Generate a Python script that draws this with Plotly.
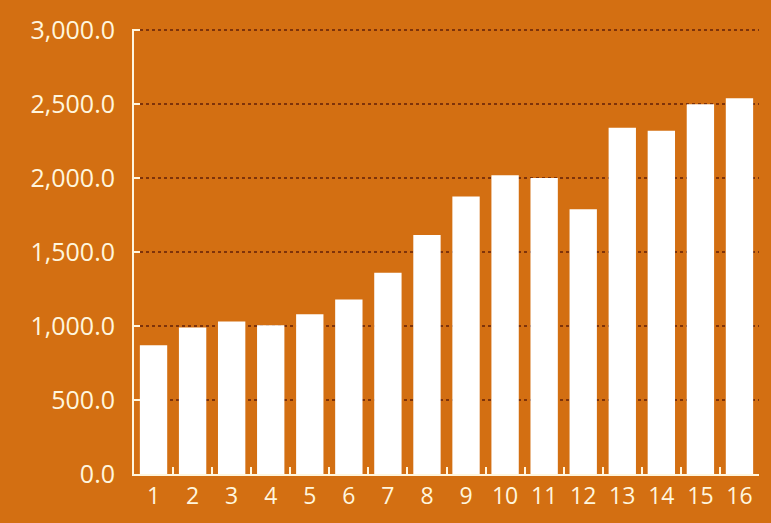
import plotly.graph_objects as go

categories = [str(i) for i in range(1, 17)]
values = [870, 990, 1030, 1005, 1080, 1180, 1360, 1615, 1875, 2020, 2000, 1790, 2340, 2320, 2500, 2540]
y_ticks = [0, 500, 1000, 1500, 2000, 2500, 3000]

bg = "#D36F12"
cream = "#FFF6DE"
grid = "#7E330A"

fig = go.Figure(go.Bar(
    x=categories, y=values,
    marker=dict(color="#FFFFFF", line=dict(width=0)),
))

fig.update_layout(
    width=771, height=523,
    paper_bgcolor=bg, plot_bgcolor=bg,
    margin=dict(l=134, r=12, t=20, b=46),
    bargap=0.3,
    showlegend=False,
    font=dict(family="Open Sans", color=cream, size=22),
)
fig.update_xaxes(
    type="category",
    showline=True, linecolor=cream, linewidth=2,
    ticks="inside", tickson="boundaries", ticklen=7, tickcolor=cream, tickwidth=1.5,
    tickfont=dict(size=23, color=cream),
    showgrid=False,
)
fig.update_yaxes(
    range=[0, 3008],
    tickvals=y_ticks, tickformat=",.1f",
    showline=True, linecolor=cream, linewidth=2,
    ticks="inside", ticklen=6, tickcolor=cream, tickwidth=1.5,
    tickfont=dict(size=25, color=cream),
    showgrid=True, gridcolor=grid, gridwidth=1.5, griddash="dot",
    zeroline=False,
    ticklabelstandoff=12,
)

fig.write_html(
    "out.html",
    config={"displayModeBar": False},
    post_script="document.body.style.margin='0';document.body.style.background='#D36F12';",
)
